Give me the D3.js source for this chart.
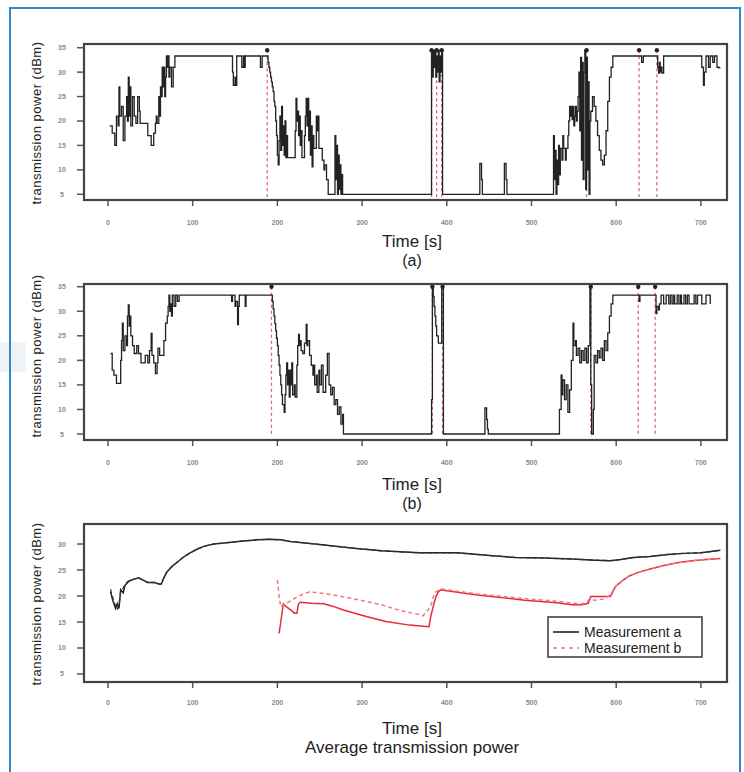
<!DOCTYPE html>
<html>
<head>
<meta charset="utf-8">
<style>
  body { margin: 0; background: #fff; }
  svg text { font-family: "Liberation Sans", Arial, sans-serif; fill: #222; }
</style>
</head>
<body>
<div id="chart"></div>
<script src="https://cdn.jsdelivr.net/npm/d3@7"></script>
<script>
// ---- data (time in s, power in dBm) ----
var xTicks = [0, 100, 200, 300, 400, 500, 600, 700];
var yTicksAB = [5, 10, 15, 20, 25, 30, 35];
var yTicksC = [5, 10, 15, 20, 25, 30];

var markersA = [188, 382, 388, 394, 565, 627, 648];
var markersB = [193, 383, 395, 570, 626, 646];

var powerA = [[2,19],[5,17.5],[8,15],[10,21],[12,19],[13,27],[14,21],[16,23],[18,16],[20,21],[22,25],[23,20],
  [24,29],[25,21],[26,27],[27,19],[29,25],[31,21],[33,19.5],[35,25],[37,22],[38,19.5],[44,19.5],[47,17],[51,15],
  [54,17.5],[56,19.5],[57,21],[58,19.5],[60,25],[61,21],[62,27],[63,25],[64,31],[65,27],[66,31],[67,25],[68,29],
  [69,33.3],[70,31],[71,33.3],[72,29],[73,31],[75,27],[77,31],[79,33.3],[146,33.3],[147,30],[148,27.3],[150,29],
  [151,27.3],[152,33.3],[157,33.3],[158,31],[160,33.3],[161,31],[162,33.3],[179,33.3],[180,31],[182,33.3],[188,33.3],
  [189,32],[190,31],[191,30],[192,29],[193,28],[194,27],[195,26],[196,24],[197,23],[198,20],[199,17],[200,13],
  [201,11],[202,16],[203,21],[204,14],[205,23],[206,15],[207,19],[208,13],[209,20],[210,12.5],[211,17],[212,12.5],
  [220,12.5],[221,18],[222,24.6],[223,20],[224,22],[225,17],[226,21],[227,15],[228,18],[229,12.5],[231,12.5],
  [232,17],[233,21],[234,24.6],[235,19],[236,24.6],[237,16],[238,22],[239,13],[240,19],[241,10.6],[242,17],
  [243,14.4],[245,14.4],[246,21],[247,18],[248,21],[249,14.4],[251,14.4],[253,12],[255,10],[256,11],[258,8],
  [260,5],[267,5],[268,17],[269,8],[270,15],[271,5],[272,13],[273,6],[274,11],[275,5],[276,9],[277,5],
  [381,5],[382,34.5],[383,29],[384,34.5],[385,31],[386,34.5],[387,29],[388,33.3],[389,30],[390,34.5],[391,28],
  [392,33.3],[393,30],[394,34.5],[395,5],[438,5],[439,11.3],[441,8],[442,5],[467,5],[468,11.3],[470,8],[471,5],
  [525,5],[526,17],[527,8],[528,14],[529,5],[530,12],[531,7],[532,15],[533,9],[534,14.4],[536,12],[537,17],
  [538,14.4],[540,12],[541,14.4],[543,17],[544,20],[545,23],[546,21],[547,23],[548,20.3],[549,23],[550,19],
  [551,21],[552,23],[553,20],[554,22],[555,25],[556,30],[557,18],[558,33],[559,12],[560,32],[561,8],[562,30],
  [563,34.5],[564,6],[565,33],[566,10],[567,28],[568,5],[569,20],[570,22],[572,25],[574,23],[576,20],[578,17],
  [580,14],[582,12],[584,11],[586,13],[588,18],[590,24],[592,29],[594,31],[596,33.3],[629,33.3],[630,32],
  [632,33.3],[649,31],[650,29.8],[651,32],[652,30],[653,31],[654,29.8],[656,33.3],[701,31],[703,27.3],[704,30],
  [706,33.3],[709,31],[711,33.3],[714,32],[716,33.3],[719,31],[721,30.9],[723,30.9]];

var powerB = [[3,21.4],[5,18],[7,17],[10,15.3],[14,15.3],[15,20],[16,24],[17,27.6],[18,22],[20,25],[22,23],
  [23,29],[24,31.3],[25,27],[26,29],[27,25],[29,23],[31,21.4],[34,23],[36,21.4],[39,19.5],[44,21],[47,19.5],
  [49,22],[51,25.5],[52,21],[54,19.5],[56,17.3],[58,19.5],[59,22.5],[61,21],[65,21],[66,24],[68,27.6],[70,29],
  [71,31],[72,33.3],[73,30],[74,31.5],[75,29],[76,33.3],[78,31],[80,33.3],[82,32],[84,33.3],[145,33.3],[146,32],
  [147,33.3],[150,31],[151,32],[153,27.3],[154,31],[155,33.3],[161,33.3],[162,31],[163,33.3],[193,33.3],
  [194,32],[195,30.5],[196,29],[197,27.5],[198,26],[199,24.5],[200,23],[201,21],[202,19],[203,17],[204,15],
  [205,13],[206,11],[208,9.4],[209,13],[210,17],[211,19.5],[212,15],[213,18],[214,12.5],[215,18],[216,15],
  [217,19.5],[218,13],[220,15],[221,12.5],[223,19],[224,23],[225,25.3],[226,23],[227,24],[228,22],[230,21.4],
  [232,23.5],[234,27.3],[235,23],[236,24],[238,21],[240,19],[242,17],[243,19],[244,15],[246,17],[247,13.5],
  [249,18],[250,15],[252,19],[254,13.5],[257,17],[259,21.4],[261,15],[263,13],[265,14.5],[267,11],[269,12],
  [271,9],[273,10.5],[275,7],[277,9],[278,5],[382,12],[383,35],[384,33],[385,31],[386,29],[387,27],[388,25],
  [390,23.5],[393,23.5],[394,35],[396,5],[444,5],[445,10.3],[447,8],[448,6],[449,5],[532,5],[533,10],[535,17],
  [536,13],[537,16],[539,12],[541,15],[543,9.4],[545,14],[547,20],[549,27.6],[550,23],[552,24],[553,21],
  [555,22.5],[557,19.5],[559,22],[561,20],[563,22.5],[565,19.5],[567,23],[569,35],[570,15],[571,5],[573,10],
  [574,21],[576,19.5],[578,22],[580,20.5],[582,22.5],[584,20],[586,24],[588,22],[590,25.6],[592,29],[594,31.5],
  [596,33.3],[626,33.3],[627,32],[628,33.3],[646,33.3],[647,29.5],[648,31],[650,30.3],[651,31.5],[653,33.3],
  [656,31.5],[659,33.3],[662,31.5],[664,33.3],[666,31.5],[668,33.3],[669,31.5],[672,33.3],[674,31.5],[676,33.3],
  [677,31.5],[680,33.3],[682,31.5],[684,33.3],[686,31.5],[690,31.5],[692,33.3],[694,31.5],[696,33.3],[700,33.3],
  [701,31.5],[705,31.5],[706,33.3],[710,33.3],[711,31.5]];

// average curves, panel (c)
var avgA = [[3,20.8],[6,19],[9,17.6],[11,18.5],[13,17.6],[15,21.2],[18,20.6],[20,22],[25,22.9],[30,23.2],
  [36,23.5],[42,23],[47,22.6],[55,22.6],[60,22.3],[63,22.3],[66,23.5],[69,24.5],[75,25.6],[81,26.4],[90,27.6],
  [97,28.3],[105,29],[114,29.6],[125,30],[143,30.3],[160,30.6],[176,30.8],[190,30.9],[204,30.8],[215,30.5],
  [233,30.2],[250,29.9],[266,29.6],[290,29.2],[323,28.7],[345,28.5],[368,28.3],[413,28.3],[450,27.8],[481,27.4],
  [515,27.3],[548,27.1],[575,26.9],[593,26.8],[605,27],[620,27.4],[640,27.6],[661,28],[680,28.2],[700,28.3],
  [723,28.8]];
var avgB = [[3,21.3],[6,19.5],[9,18],[11,17.5],[13,18.2],[15,21],[18,21.5],[20,22.3],[25,23],[30,23.2],
  [36,23.5],[42,23],[47,22.6],[55,22.6],[60,22.3],[63,22.3],[66,23.5],[69,24.5],[75,25.6],[81,26.4],[90,27.6],
  [97,28.3],[105,29],[114,29.6],[125,30],[143,30.3],[160,30.6],[176,30.8],[190,30.9],[204,30.8],[215,30.5],
  [233,30.2],[250,29.9],[266,29.6],[290,29.2],[323,28.7],[345,28.5],[368,28.3],[413,28.3],[450,27.8],[481,27.4],
  [515,27.3],[548,27.1],[575,26.9],[593,26.8],[605,27],[620,27.4],[640,27.6],[661,28],[680,28.2],[700,28.3],
  [723,28.8]];
var avgASince = [[202,12.8],[204,15],[207,18.5],[210,18],[216,17.3],[220,16.7],[223,16.7],[225,18.5],[227,18.8],
  [240,18.6],[255,18.5],[266,18],[278,17.3],[306,16],[328,15.1],[356,14.4],[379,14.1],[381,16],[384,18],
  [387,19.8],[390,20.8],[393,21.2],[400,21],[436,20.2],[492,19.2],[530,18.7],[548,18.3],[560,18.3],[567,18.6],
  [570,19.9],[593,19.9],[596,20.8],[599,21.8],[607,22.9],[615,23.8],[625,24.5],[638,25.1],[655,25.8],[672,26.4],
  [690,26.8],[706,27],[723,27.2]];
var avgBSince = [[200,23.1],[202,20],[204,17.9],[206,18.2],[215,19],[225,20],[238,20.8],[250,20.6],[266,20.2],
  [295,19.3],[323,18.3],[345,17.2],[368,16.4],[372,16.2],[381,18],[384,19.8],[387,20.8],[393,21.4],[400,21.2],
  [436,20.4],[492,19.5],[530,19],[548,18.6],[560,18.5],[565,18.7],[568,19.3],[575,19.2],[585,19.4],[590,19.9],
  [593,20.2],[599,21.8],[607,22.9],[615,23.8],[625,24.5],[638,25.1],[655,25.8],[672,26.4],[690,26.8],[706,27],
  [723,27.2]];

var legendLabels = ["Measurement a", "Measurement b"];

// ---- drawing ----
var width = 744;
var height = 772;
var svg = d3.select("#chart")
  .append("svg")
  .attr("width", width)
  .attr("height", height);

// faint patch left of the frame and the blue page border
svg.append("rect")
  .attr("x", 0).attr("y", 342).attr("width", 26).attr("height", 30)
  .attr("fill", "#eef3f8");
svg.append("rect")
  .attr("x", 10).attr("y", 8).attr("width", 730).attr("height", 780)
  .attr("fill", "none")
  .attr("stroke", "#3188cc")
  .attr("stroke-width", 2);

var x = d3.scaleLinear().domain([-28.3, 730.8]).range([84, 727]);

function drawPanel(top, bottom, yDomain, yTicks, tickY, titleY) {
  var y = d3.scaleLinear().domain(yDomain).range([bottom, top]);
  var g = svg.append("g");

  // y ticks
  g.selectAll(".yt").data(yTicks).enter().append("line")
    .attr("x1", 77).attr("x2", 84)
    .attr("y1", function(d) { return y(d); })
    .attr("y2", function(d) { return y(d); })
    .attr("stroke", "#555").attr("stroke-width", 1.5);
  g.selectAll(".yl").data(yTicks).enter().append("text")
    .attr("x", 62)
    .attr("y", function(d) { return y(d) + 2.5; })
    .attr("text-anchor", "middle")
    .attr("font-size", "7px")
    .attr("font-weight", "bold")
    .style("fill", "#8a8a8a")
    .text(function(d) { return d; });

  // x ticks
  g.selectAll(".xt").data(xTicks).enter().append("line")
    .attr("x1", function(d) { return x(d); })
    .attr("x2", function(d) { return x(d); })
    .attr("y1", bottom).attr("y2", bottom + 6)
    .attr("stroke", "#555").attr("stroke-width", 1.5);
  g.selectAll(".xl").data(xTicks).enter().append("text")
    .attr("x", function(d) { return x(d); })
    .attr("y", tickY)
    .attr("text-anchor", "middle")
    .attr("font-size", "7px")
    .attr("font-weight", "bold")
    .style("fill", "#8a8a8a")
    .text(function(d) { return d; });

  // y axis title
  g.append("text")
    .attr("transform", "translate(40.5," + titleY + ") rotate(-90)")
    .attr("text-anchor", "middle")
    .attr("font-size", "13px")
    .attr("letter-spacing", "0.5px")
    .text("transmission power (dBm)");

  return { g: g, y: y, top: top, bottom: bottom };
}

function drawFrame(p) {
  p.g.append("rect")
    .attr("x", 84).attr("y", p.top)
    .attr("width", 727 - 84).attr("height", p.bottom - p.top)
    .attr("fill", "none")
    .attr("stroke", "#444")
    .attr("stroke-width", 2.2);
}

function drawMarkers(p, markers, topValue) {
  p.g.selectAll(".mk").data(markers).enter().append("line")
    .attr("x1", function(d) { return x(d); })
    .attr("x2", function(d) { return x(d); })
    .attr("y1", p.y(topValue))
    .attr("y2", p.bottom - 3)
    .attr("stroke", "#e0607a")
    .attr("stroke-width", 1.3)
    .attr("stroke-dasharray", "3,3");
}

function drawDots(p, markers, topValue) {
  p.g.selectAll(".dot").data(markers).enter().append("circle")
    .attr("cx", function(d) { return x(d); })
    .attr("cy", p.y(topValue))
    .attr("r", 2.2)
    .attr("fill", "#222");
}

function stepLine(p, data) {
  var line = d3.line()
    .x(function(d) { return x(d[0]); })
    .y(function(d) { return p.y(d[1]); })
    .curve(d3.curveStepAfter);
  p.g.append("path")
    .datum(data)
    .attr("d", line)
    .attr("fill", "none")
    .attr("stroke", "#222")
    .attr("stroke-width", 1.3);
}

function smoothLine(p, data, color, dash, w) {
  var line = d3.line()
    .x(function(d) { return x(d[0]); })
    .y(function(d) { return p.y(d[1]); });
  p.g.append("path")
    .datum(data)
    .attr("d", line)
    .attr("fill", "none")
    .attr("stroke", color)
    .attr("stroke-width", w)
    .attr("stroke-dasharray", dash);
}

function caption(text, yPos, size) {
  svg.append("text")
    .attr("x", 412)
    .attr("y", yPos)
    .attr("text-anchor", "middle")
    .attr("font-size", size)
    .text(text);
}

// panel (a)
var pa = drawPanel(44, 200, [3.83, 35.76], yTicksAB, 224.5, 123);
drawMarkers(pa, markersA, 34.5);
stepLine(pa, powerA);
drawDots(pa, markersA, 34.5);
drawFrame(pa);
caption("Time [s]", 247, "17px");
caption("(a)", 266, "16px");

// panel (b)
var pb = drawPanel(284, 440, [3.78, 35.55], yTicksAB, 464.5, 356);
drawMarkers(pb, markersB, 35);
stepLine(pb, powerB);
drawDots(pb, markersB, 35);
drawFrame(pb);
caption("Time [s]", 490, "17px");
caption("(b)", 509, "16px");

// panel (c)
var pc = drawPanel(524, 682, [3.46, 33.85], yTicksC, 704.5, 604);
smoothLine(pc, avgA, "#222", null, 1.5);
smoothLine(pc, avgB, "#333", "4,3", 1.3);
smoothLine(pc, avgASince, "#e8283c", null, 1.5);
smoothLine(pc, avgBSince, "#f07a80", "4,3", 1.5);
drawFrame(pc);
caption("Time [s]", 734, "17px");
caption("Average transmission power", 753, "17px");

// legend
var legend = svg.append("g");
legend.append("rect")
  .attr("x", 548).attr("y", 617).attr("width", 154).attr("height", 40)
  .attr("fill", "#fff")
  .attr("stroke", "#444")
  .attr("stroke-width", 1.6);
var legendStyles = [{ color: "#222", dash: null }, { color: "#f07a80", dash: "4,4" }];
legend.selectAll(".li").data(legendLabels).enter().append("line")
  .attr("x1", 553).attr("x2", 579)
  .attr("y1", function(d, i) { return 632 + i * 16; })
  .attr("y2", function(d, i) { return 632 + i * 16; })
  .attr("stroke", function(d, i) { return legendStyles[i].color; })
  .attr("stroke-width", 1.6)
  .attr("stroke-dasharray", function(d, i) { return legendStyles[i].dash; });
legend.selectAll(".lt").data(legendLabels).enter().append("text")
  .attr("x", 584)
  .attr("y", function(d, i) { return 637 + i * 16; })
  .attr("font-size", "14px")
  .text(function(d) { return d; });
</script>
</body>
</html>
